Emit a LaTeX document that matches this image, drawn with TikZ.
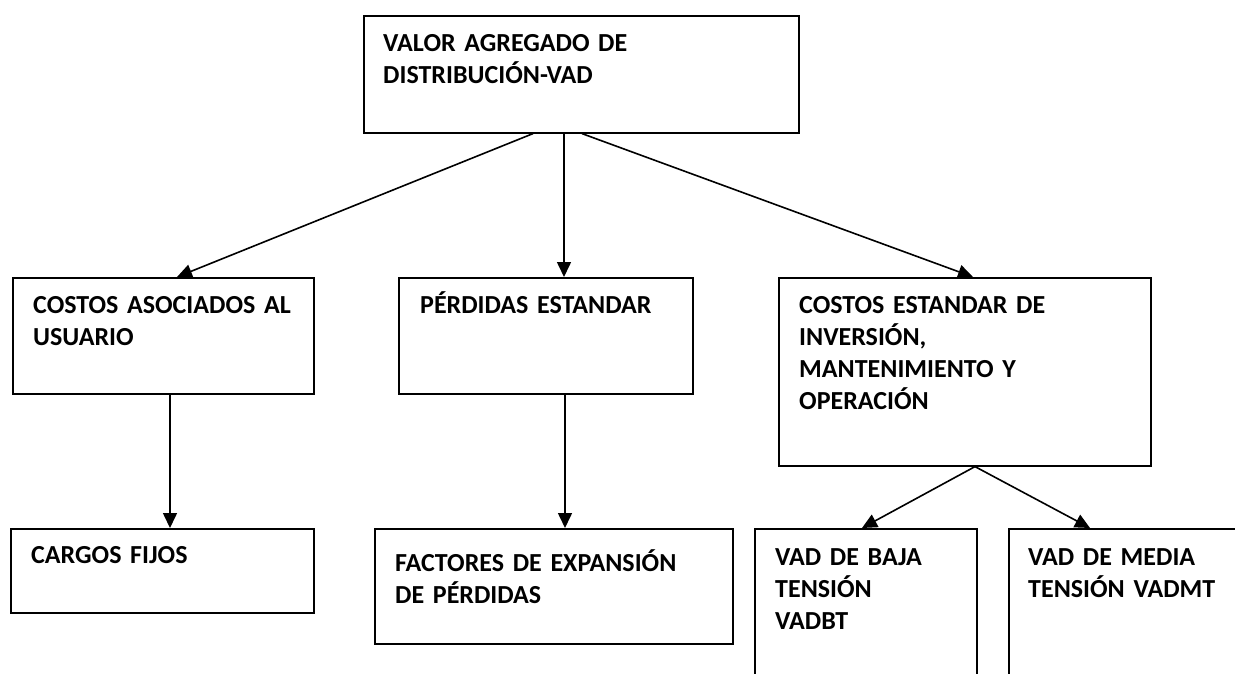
\documentclass[tikz,border=0pt]{standalone}
\usepackage{fontspec}
\setmainfont{Carlito}
\usetikzlibrary{arrows.meta,calc}
\begin{document}
\begin{tikzpicture}[x=1pt,y=-1pt,
  box/.style={draw, line width=1.6pt, inner sep=0pt, anchor=north west},
  txt/.style={anchor=base west, inner sep=0pt, text width=#1, align=left,
    font=\bfseries\fontsize{26}{32}\selectfont},
  arr/.style={line width=1.6pt, -{Triangle[length=15pt,width=14pt]}}]
\clip (0,0) rectangle (1235,674);
% boxes
\node[box, minimum width=435pt, minimum height=117pt] (vad) at (363,15) {};
\node[box, minimum width=301pt, minimum height=116pt] (cau) at (12,277) {};
\node[box, minimum width=294pt, minimum height=116pt] (pe) at (398,277) {};
\node[box, minimum width=372pt, minimum height=188pt] (ce) at (778,277) {};
\node[box, minimum width=303pt, minimum height=84pt] (cf) at (10,528) {};
\node[box, minimum width=358pt, minimum height=115pt] (fe) at (374,528) {};
\node[box, minimum width=222pt, minimum height=250pt] (bt) at (754,528) {};
\node[box, minimum width=300pt, minimum height=250pt] (mt) at (1008,528) {};
% texts
\node[txt=400pt] (vadT) at (383,52) {VALOR AGREGADO DE\\DISTRIBUCIÓN-VAD};
\node[txt=280pt] (cauT) at (33,313) {COSTOS ASOCIADOS AL\\USUARIO};
\node[txt=270pt] (peT) at (420,313) {PÉRDIDAS ESTANDAR};
\node[txt=340pt] (ceT) at (799,313) {COSTOS ESTANDAR DE\\INVERSIÓN,\\MANTENIMIENTO Y\\OPERACIÓN};
\node[txt=270pt] (cfT) at (31,563) {CARGOS FIJOS};
\node[txt=330pt] (feT) at (395,571) {FACTORES DE EXPANSIÓN\\DE PÉRDIDAS};
\node[txt=190pt] (btT) at (775,565) {VAD DE BAJA\\TENSIÓN\\VADBT};
\node[txt=210pt] (mtT) at (1028,565) {VAD DE MEDIA\\TENSIÓN VADMT};
% connectors
\draw[arr] ($(vad.south west)+(170,0)$) -- ($(cau.north west)+(165,0)$);
\draw[arr] ($(vad.south west)+(201,0)$) -- ($(pe.north west)+(166,0)$);
\draw[arr] ($(vad.south west)+(219,0)$) -- ($(ce.north west)+(195,0)$);
\draw[arr] ($(cau.south west)+(158,0)$) -- ($(cf.north west)+(160,0)$);
\draw[arr] ($(pe.south west)+(167,0)$) -- ($(fe.north west)+(191,0)$);
\draw[arr] ($(ce.south west)+(197,0)$) -- ($(bt.north west)+(108,0)$);
\draw[arr] ($(ce.south west)+(197,0)$) -- ($(mt.north west)+(82,0)$);
\end{tikzpicture}
\end{document}
